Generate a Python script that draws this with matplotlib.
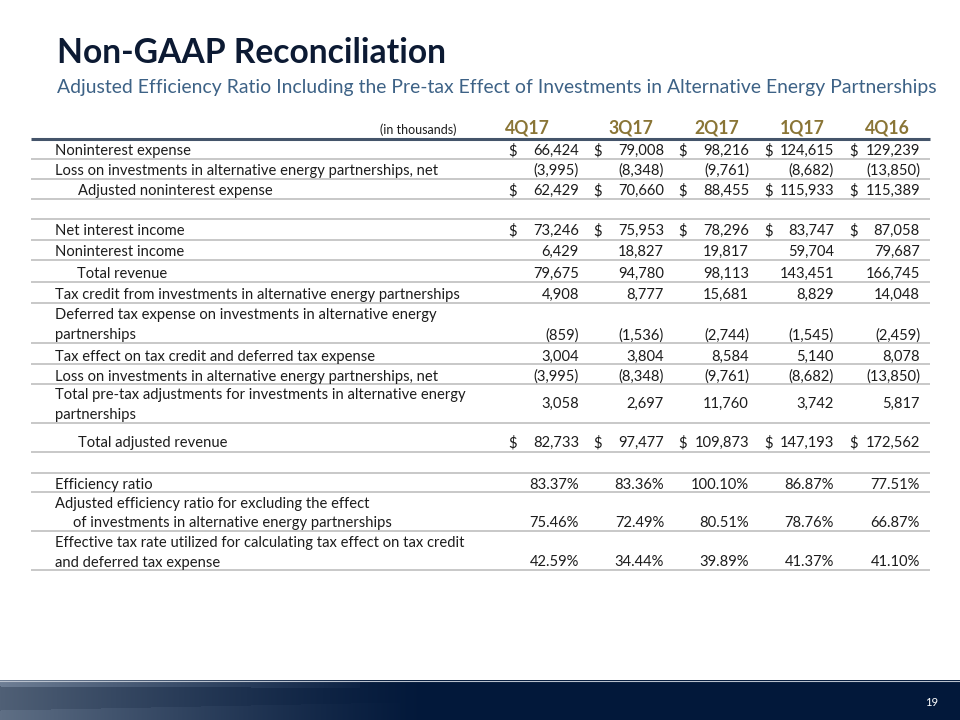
import matplotlib
matplotlib.use("Agg")
import matplotlib.pyplot as plt
import numpy as np
from matplotlib import font_manager

# ==============================
# Data (in thousands)
# ==============================
quarters = ["4Q17", "3Q17", "2Q17", "1Q17", "4Q16"]

noninterest_expense = [66424, 79008, 98216, 124615, 129239]
loss_alt_energy = [-3995, -8348, -9761, -8682, -13850]
adj_noninterest_expense = [62429, 70660, 88455, 115933, 115389]
net_interest_income = [73246, 75953, 78296, 83747, 87058]
noninterest_income = [6429, 18827, 19817, 59704, 79687]
total_revenue = [79675, 94780, 98113, 143451, 166745]
tax_credit = [4908, 8777, 15681, 8829, 14048]
deferred_tax = [-859, -1536, -2744, -1545, -2459]
tax_effect = [3004, 3804, 8584, 5140, 8078]
loss_alt_energy_2 = [-3995, -8348, -9761, -8682, -13850]
pretax_adjustments = [3058, 2697, 11760, 3742, 5817]
total_adj_revenue = [82733, 97477, 109873, 147193, 172562]
efficiency_ratio = [83.37, 83.36, 100.10, 86.87, 77.51]
adj_efficiency_ratio = [75.46, 72.49, 80.51, 78.76, 66.87]
effective_tax_rate = [42.59, 34.44, 39.89, 41.37, 41.10]

# (label, values, kind)  kind: "usd" = with $ sign, "num", "pct", None = blank row
rows = [
    ("Noninterest expense", noninterest_expense, "usd"),
    ("Loss on investments in alternative energy partnerships, net", loss_alt_energy, "num"),
    ("Adjusted noninterest expense", adj_noninterest_expense, "usd"),
    ("", None, None),
    ("Net interest income", net_interest_income, "usd"),
    ("Noninterest income", noninterest_income, "num"),
    ("Total revenue", total_revenue, "num"),
    ("Tax credit from investments in alternative energy partnerships", tax_credit, "num"),
    ("Deferred tax expense on investments in alternative energy\npartnerships", deferred_tax, "num"),
    ("Tax effect on tax credit and deferred tax expense", tax_effect, "num"),
    ("Loss on investments in alternative energy partnerships, net", loss_alt_energy_2, "num"),
    ("Total pre-tax adjustments for investments in alternative energy\npartnerships", pretax_adjustments, "num"),
    ("Total adjusted revenue", total_adj_revenue, "usd"),
    ("", None, None),
    ("Efficiency ratio", efficiency_ratio, "pct"),
    ("Adjusted efficiency ratio for excluding the effect\nof investments in alternative energy partnerships", adj_efficiency_ratio, "pct"),
    ("Effective tax rate utilized for calculating tax effect on tax credit\nand deferred tax expense", effective_tax_rate, "pct"),
]

# ==============================
# Layout (pixels on a 960x720 slide)
# ==============================
value_y = [151, 171, 191, 209, 231, 252, 274, 295, 336, 357, 377, 404, 443, 463, 485, 523, 562]
label_y = [151, 171, 191, 209, 231, 252, 274, 295, 315, 357, 377, 395, 443, 463, 485, 504, 543]
label_x = [55, 55, 78, 55, 55, 55, 77, 55, 55, 55, 55, 55, 78, 55, 55, 55, 55]
second_line_x = {15: 73}
line_gap = 19.5
rule_y = [159, 179, 199, 219, 240, 260, 282, 303, 343, 364, 384, 423, 452, 473, 492, 531, 570]
value_right = [579, 664, 749, 834, 920]
dollar_left = [508, 593, 678, 764, 849]
header_x = [527, 631, 717, 802, 887]

TEXT = "#1c1c1c"
GOLD = "#8a7536"
NAVY = "#0c1a33"
STEEL = "#3d6286"
RULE = "#c4c4c4"

FONT = "Lato"
plt.rcParams["font.family"] = [FONT, "DejaVu Sans"]

fig = plt.figure(figsize=(9.6, 7.2), dpi=100)
ax = fig.add_axes([0, 0, 1, 1])
ax.set_xlim(0, 960)
ax.set_ylim(720, 0)
ax.axis("off")
renderer = fig.canvas.get_renderer()


def fit_size(s, width, weight="normal"):
    t = ax.text(0, 0, s, fontsize=10, fontweight=weight)
    w = t.get_window_extent(renderer).width
    t.remove()
    return 10 * width / w


body = fit_size("Tax credit from investments in alternative energy partnerships", 402)
title_fs = fit_size("Non-GAAP Reconciliation", 390, "bold")
sub_fs = fit_size("Adjusted Efficiency Ratio Including the Pre-tax Effect of Investments in Alternative Energy Partnerships", 881)


def fmt(v, kind):
    if kind == "pct":
        return f"{v:.2f}%"
    if v < 0:
        return f"({-v:,})"
    return f"{v:,}"


# ==============================
# Title block
# ==============================
ax.text(57, 53, "Non-GAAP Reconciliation", fontsize=title_fs, fontweight="bold",
        color=NAVY, va="center", ha="left")
ax.text(57, 88, "Adjusted Efficiency Ratio Including the Pre-tax Effect of Investments in Alternative Energy Partnerships",
        fontsize=sub_fs, color=STEEL, va="center", ha="left")

# ==============================
# Header
# ==============================
ax.text(457, 134, "(in thousands)", fontsize=body * 0.85, color=TEXT, ha="right", va="baseline")
for q, x in zip(quarters, header_x):
    ax.text(x, 134, q, fontsize=body * 1.2, fontweight="bold", color=GOLD, ha="center", va="baseline")
ax.plot([31, 930], [139, 139], color="#44546a", lw=2.2, solid_capstyle="butt")

# ==============================
# Rows
# ==============================
for i, (label, vals, kind) in enumerate(rows):
    lines = label.split("\n")
    for j, ln in enumerate(lines):
        x = label_x[i] if j == 0 else second_line_x.get(i, label_x[i])
        ax.text(x, label_y[i] + j * line_gap, ln, fontsize=body, color=TEXT, ha="left", va="center")
    if vals is not None:
        for k, v in enumerate(vals):
            ax.text(value_right[k], value_y[i], fmt(v, kind), fontsize=body, color=TEXT,
                    ha="right", va="center")
            if kind == "usd":
                ax.text(dollar_left[k], value_y[i], "$", fontsize=body, color=TEXT,
                        ha="left", va="center")
    ax.plot([31, 930], [rule_y[i], rule_y[i]], color=RULE, lw=1.3, solid_capstyle="butt")

# ==============================
# Footer band
# ==============================
navy = np.array([2, 24, 58]) / 255
light = np.array([80, 96, 118]) / 255
xs = np.linspace(0, 1, 960)
ramp = np.clip(1 - xs / 0.45, 0, 1) ** 1.3
grad = navy[None, :] * (1 - ramp[:, None]) + light[None, :] * ramp[:, None]
img = np.repeat(grad[None, :, :], 40, axis=0)
# faint diagonal streaks on the left side
yy, xx = np.mgrid[0:40, 0:960]
streak = ((yy < 6 + xx * 0.004) & (xx < 360)).astype(float) * 0.12
streak += ((yy > 30 - xx * 0.02) & (xx < 400)).astype(float) * 0.06
img = np.clip(img + streak[:, :, None] * (1 - xx[:, :, None] / 420).clip(0, 1), 0, 1)
ax.imshow(img, extent=[0, 960, 720, 680], aspect="auto", zorder=1)
ax.plot([0, 960], [680.5, 680.5], color="#b8c0cc", lw=0.8, zorder=2)
ax.text(932, 703, "19", fontsize=8, color="white", ha="center", va="center", zorder=3)

ax.set_xlim(0, 960)
ax.set_ylim(720, 0)
fig.savefig("out.png", dpi=100)
